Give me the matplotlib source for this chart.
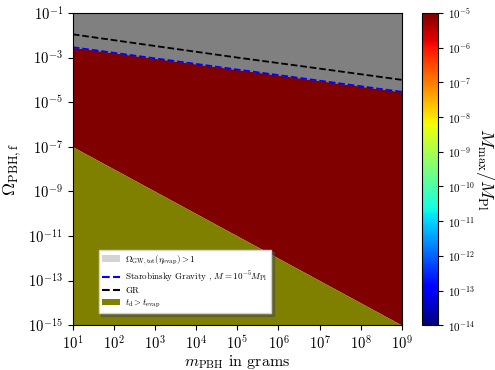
import numpy as np
import matplotlib
matplotlib.use("Agg")
import matplotlib.pyplot as plt
from matplotlib.colors import LogNorm
from matplotlib.patches import Patch
from matplotlib.lines import Line2D

plt.rcParams['font.family'] = 'serif'
plt.rcParams['font.serif'] = ['cmr10', 'DejaVu Serif']
plt.rcParams['mathtext.fontset'] = 'cm'
plt.rcParams['axes.formatter.use_mathtext'] = True

# masy PBH w gramach
m_pbh = np.array([1e1, 1e3, 1e5, 1e7, 1e9])
# granica Starobinsky (M = 1e-5 M_Pl)
omega_staro = np.array([2.9e-3, 9.2e-4, 2.9e-4, 9.2e-5, 2.9e-5])
# granica GR
omega_gr = np.array([1.1e-2, 3.3e-3, 1.0e-3, 3.2e-4, 1.0e-4])
# granica t_d > t_evap
omega_td = np.array([1e-7, 1e-9, 1e-11, 1e-13, 1e-15])

y_min, y_max = 1e-15, 1e-1
c_min, c_max = 1e-14, 1e-5
cmap = plt.cm.jet
norm = LogNorm(vmin=c_min, vmax=c_max)

fig = plt.figure(figsize=(4.95, 3.7), dpi=100)
ax = fig.add_axes([0.147, 0.121, 0.665, 0.844])
cax = fig.add_axes([0.853, 0.121, 0.032, 0.844])

ax.fill_between(m_pbh, omega_staro, y_max, color='gray', lw=0)
ax.fill_between(m_pbh, omega_td, omega_staro, color=cmap(norm(c_max)), lw=0)
ax.fill_between(m_pbh, y_min, omega_td, color='olive', lw=0)
ax.plot(m_pbh, omega_staro, '--', color='blue', lw=1.3)
ax.plot(m_pbh, omega_gr, '--', color='black', lw=1.3)

ax.set_xscale('log')
ax.set_yscale('log')
ax.set_xlim(1e1, 1e9)
ax.set_ylim(y_min, y_max)
ax.set_xticks([10.0**k for k in range(1, 10)])
ax.set_yticks([10.0**k for k in range(-15, 0, 2)])
ax.minorticks_off()
ax.tick_params(labelsize=10.5)
ax.set_xlabel(r'$m_{\rm PBH}$ in grams', fontsize=11.5, labelpad=0)
ax.set_ylabel(r'$\Omega_{\rm PBH,f}$', fontsize=13)

uchwyty = [
    Patch(facecolor='lightgray', label=r'$\Omega_{\rm GW,tot}(\eta_{\rm evap})>1$'),
    Line2D([], [], ls='--', color='blue', label=r'Starobinsky Gravity , $M=10^{-5}M_{\rm Pl}$'),
    Line2D([], [], ls='--', color='black', label='GR'),
    Patch(facecolor='olive', label=r'$t_{\rm d}>t_{\rm evap}$'),
]
ax.legend(handles=uchwyty, loc='lower left', bbox_to_anchor=(0.065, 0.025), fontsize=6.5,
          shadow=True, fancybox=False, framealpha=1, edgecolor='lightgray',
          labelspacing=0.3, borderpad=0.35, handletextpad=0.6)

sm = plt.cm.ScalarMappable(norm=norm, cmap=cmap)
cb = fig.colorbar(sm, cax=cax)
cb.set_ticks([10.0**k for k in range(-14, -4)])
cb.ax.minorticks_off()
cb.ax.tick_params(labelsize=8)
cb.set_label(r'$M_{\rm max}/M_{\rm Pl}$', fontsize=13, rotation=270, labelpad=15)

fig.savefig('out.png', dpi=100)
